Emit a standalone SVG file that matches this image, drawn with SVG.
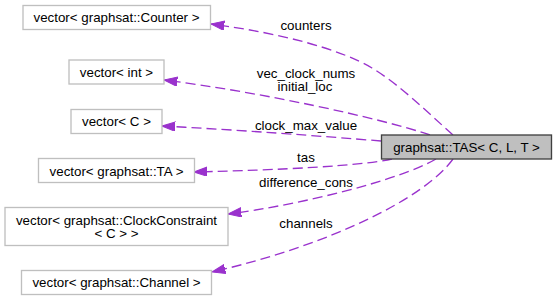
<svg xmlns="http://www.w3.org/2000/svg" width="555" height="301" viewBox="0 0 555 301">
  <style>
    text { font-family: "Liberation Sans", Arial, sans-serif; font-size: 13.33px; fill: #000; text-anchor: middle; }
    .box { fill: #ffffff; stroke: #bfbfbf; stroke-width: 1.33; }
    .main { fill: #bfbfbf; stroke: #404040; stroke-width: 1.33; }
    .edge { fill: none; stroke: #9a32cd; stroke-width: 1.33; stroke-dasharray: 10,5; marker-end: url(#arrow); }
  </style>
  <defs>
    <marker id="arrow" markerUnits="userSpaceOnUse" markerWidth="14" markerHeight="10" refX="13.3" refY="4.67" orient="auto" viewBox="0 0 14 10">
      <path d="M0,0 L13.3,4.67 L0,9.33 z" fill="#9a32cd" stroke="#9a32cd" stroke-width="1"/>
    </marker>
  </defs>

  <!-- composition edges: TAS members pointing to their types -->
  <g id="edges">
    <path class="edge" d="M453,135 C425,110 400,85 372,68 C340,49 280,33 211,24"/>
    <path class="edge" d="M430,135 C380,118 260,92 164,80"/>
    <path class="edge" d="M381,141 C320,136 240,130 162,126"/>
    <path class="edge" d="M392,159 C360,166 280,170 194,172"/>
    <path class="edge" d="M436,159 C400,180 300,205 228,214"/>
    <path class="edge" d="M453,159 C425,198 330,245 212,272"/>
  </g>

  <!-- edge labels -->
  <g id="labels">
    <text x="306" y="30">counters</text>
    <text x="306" y="77.5">vec_clock_nums</text>
    <text x="305" y="91">initial_loc</text>
    <text x="306" y="129.5">clock_max_value</text>
    <text x="306" y="161.5">tas</text>
    <text x="306" y="186.5">difference_cons</text>
    <text x="306" y="228">channels</text>
  </g>

  <g id="node-tas">
    <rect class="main" x="381.5" y="135" width="170" height="24"/>
    <text x="466.5" y="151.5">graphsat::TAS&lt; C, L, T &gt;</text>
  </g>

  <g id="node-counter">
    <rect class="box" x="23" y="5.5" width="187.5" height="24"/>
    <text x="116.5" y="22">vector&lt; graphsat::Counter &gt;</text>
  </g>

  <g id="node-int">
    <rect class="box" x="69" y="60" width="95" height="24"/>
    <text x="116.5" y="76.5">vector&lt; int &gt;</text>
  </g>

  <g id="node-c">
    <rect class="box" x="71" y="109.5" width="91" height="24"/>
    <text x="116.5" y="126">vector&lt; C &gt;</text>
  </g>

  <g id="node-ta">
    <rect class="box" x="38.5" y="158.5" width="156" height="24"/>
    <text x="116.5" y="175.5">vector&lt; graphsat::TA &gt;</text>
  </g>

  <g id="node-clockconstraint">
    <rect class="box" x="5" y="207.5" width="223" height="38"/>
    <text x="116.5" y="224.5">vector&lt; graphsat::ClockConstraint</text>
    <text x="116.5" y="238">&lt; C &gt; &gt;</text>
  </g>

  <g id="node-channel">
    <rect class="box" x="21.5" y="270.5" width="190" height="24"/>
    <text x="116.5" y="287">vector&lt; graphsat::Channel &gt;</text>
  </g>
</svg>
